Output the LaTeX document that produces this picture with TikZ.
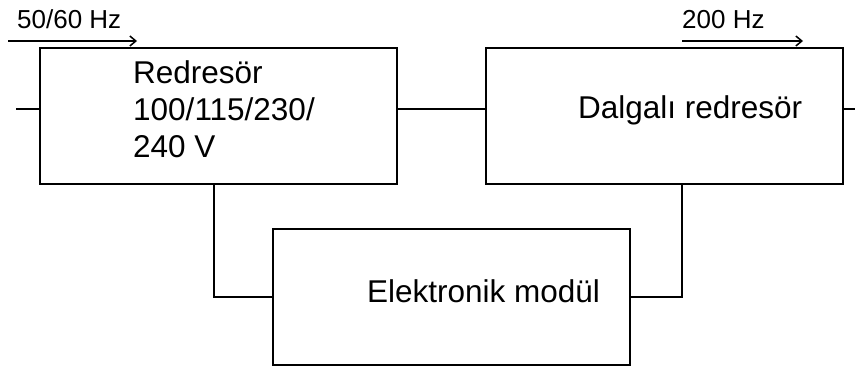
\documentclass[tikz,border=0pt]{standalone}
\usepackage{fontspec}
\setmainfont{Liberation Sans}
\usetikzlibrary{calc,arrows.meta}

\tikzset{
  blok/.style={draw, line width=2pt, minimum width=357pt, minimum height=136pt, inner sep=0pt},
  wire/.style={line width=2pt},
  freq/.style={line width=1.5pt, -{Straight Barb[length=6pt,width=10pt]}},
  lbl/.style={anchor=base west, inner sep=0pt, font=\fontsize{31.5}{37}\selectfont},
  tag/.style={anchor=base west, inner sep=0pt, font=\fontsize{26}{30}\selectfont}
}

\begin{document}
\begin{tikzpicture}[x=1pt,y=-1pt]
  \useasboundingbox (0,0) rectangle (867,367);

  % the three blocks
  \node[blok] (red) at (218.5,116) {};
  \node[blok] (dal) at (664,116) {};
  \node[blok] (elk) at (451.5,297) {};

  % base west of a multi-line node sits on its last line
  \node[lbl, align=left] (redtxt) at (133,157) {Redresör\\100/115/230/\\240 V};
  \node[lbl] (daltxt) at (578,118) {Dalgalı redresör};
  \node[lbl] (elktxt) at (367,302) {Elektronik modül};

  % wiring
  \coordinate (in) at (16,109);
  \coordinate (out) at (855,109);
  \coordinate (tapl) at (214,184);
  \coordinate (tapr) at (682,184);

  \draw[wire] (in) -- (in -| red.west);
  \draw[wire] (in -| red.east) -- (in -| dal.west);
  \draw[wire] (in -| dal.east) -- (out);
  \draw[wire] (tapl) |- (elk.west);
  \draw[wire] (tapr) |- (elk.east);

  % frequencies
  \coordinate (f1) at (8,41);
  \coordinate (f2) at (682,41);
  \node[tag] (hz1) at (17,28) {50/60 Hz};
  \node[tag] (hz2) at (682,28) {200 Hz};
  \draw[freq] (f1) -- ++(129,0);
  \draw[freq] (f2) -- ++(121,0);
\end{tikzpicture}
\end{document}
